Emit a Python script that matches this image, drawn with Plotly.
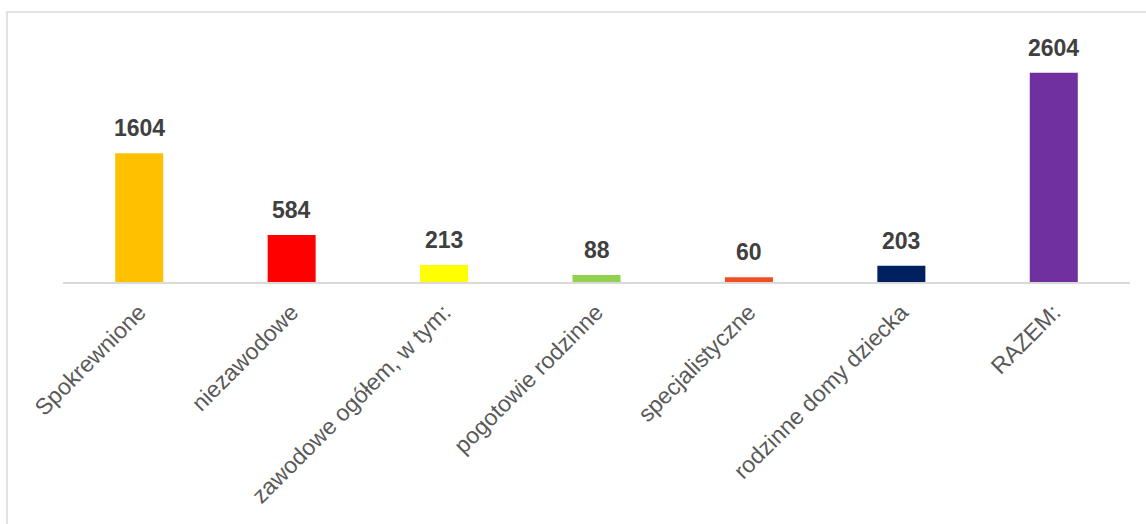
import plotly.graph_objects as go

categories = [
    "Spokrewnione",
    "niezawodowe",
    "zawodowe ogółem, w tym:",
    "pogotowie rodzinne",
    "specjalistyczne",
    "rodzinne domy dziecka",
    "RAZEM:",
]
values = [1604, 584, 213, 88, 60, 203, 2604]
colors = ["#FFC000", "#FF0000", "#FFFF00", "#92D050", "#F04E23", "#002060", "#7030A0"]

W, H = 1146, 524
M_L, M_R, M_T, M_B = 63, 16, 41, 242
plot_w = W - M_L - M_R
plot_h = H - M_T - M_B

fig = go.Figure(
    go.Bar(
        x=categories,
        y=values,
        marker=dict(color=colors, line=dict(width=0)),
        hoverinfo="x+y",
    )
)

# value labels above each bar
for cat, val in zip(categories, values):
    fig.add_annotation(
        x=cat, y=val, text=f"<b>{val}</b>",
        showarrow=False, yanchor="bottom", yshift=10,
        font=dict(family="Liberation Sans, Arial", size=23, color="#404040"),
    )

# outer chart frame (light grey)
def px_x(p):
    return (p - M_L) / plot_w

def px_y(p):
    return (H - M_B - p) / plot_h

fig.add_shape(
    type="rect", xref="paper", yref="paper",
    x0=px_x(7), x1=px_x(W + 20), y0=px_y(H + 20), y1=px_y(12),
    line=dict(color="#D9D9D9", width=1.5), fillcolor="rgba(0,0,0,0)", layer="below",
)

fig.update_layout(
    width=W, height=H,
    margin=dict(l=M_L, r=M_R, t=M_T, b=M_B),
    paper_bgcolor="white", plot_bgcolor="white",
    bargap=0.685,
    showlegend=False,
    xaxis=dict(
        tickangle=-45,
        tickfont=dict(family="Liberation Sans, Arial", size=23, color="#595959"),
        ticklabelstandoff=6,
        showline=True, linecolor="#D9D9D9", linewidth=1.5,
        ticks="", showgrid=False, zeroline=False,
    ),
    yaxis=dict(
        range=[0, 3000], visible=False, showgrid=False, zeroline=False,
    ),
)

fig.write_html("out.html")
